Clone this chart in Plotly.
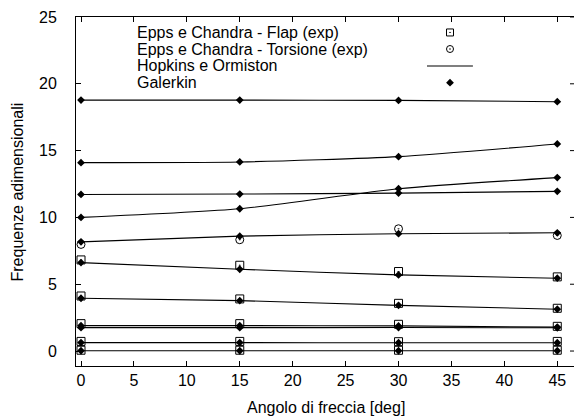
import plotly.graph_objects as go

# Sweep angle [deg]
angles = [0, 15, 30, 45]

# Galerkin frequencies, one list per mode
galerkin_modes = [
    [18.78, 18.78, 18.76, 18.66],
    [14.10, 14.15, 14.55, 15.50],
    [11.72, 11.75, 11.82, 11.95],
    [10.00, 10.65, 12.15, 12.98],
    [8.17, 8.60, 8.78, 8.85],
    [6.62, 6.12, 5.70, 5.45],
    [3.95, 3.77, 3.42, 3.13],
    [1.90, 1.90, 1.88, 1.79],
    [1.75, 1.75, 1.76, 1.74],
    [0.63, 0.63, 0.62, 0.62],
    [0.02, 0.02, 0.02, 0.02],
]

# Hopkins e Ormiston curves
hopkins_modes = [
    [18.78, 18.78, 18.76, 18.66],
    [14.10, 14.15, 14.55, 15.50],
    [11.72, 11.75, 11.82, 11.95],
    [10.00, 10.65, 12.15, 12.98],
    [8.17, 8.60, 8.78, 8.85],
    [6.62, 6.12, 5.70, 5.45],
    [3.95, 3.77, 3.42, 3.13],
    [1.90, 1.90, 1.88, 1.79],
    [1.75, 1.75, 1.76, 1.74],
    [0.63, 0.63, 0.62, 0.62],
    [0.02, 0.02, 0.02, 0.02],
]

# Epps e Chandra experiments
flap_exp = [
    [6.82, 6.42, 5.95, 5.55],
    [4.12, 3.90, 3.57, 3.20],
    [2.05, 2.05, 2.00, 1.85],
    [0.72, 0.72, 0.70, 0.72],
    [0.06, 0.06, 0.06, 0.06],
]
torsion_exp = [7.98, 8.33, 9.15, 8.65]

legend_labels = [
    "Epps e Chandra - Flap (exp)",
    "Epps e Chandra - Torsione (exp)",
    "Hopkins e Ormiston",
    "Galerkin",
]

x_ticks = list(range(0, 50, 5))
y_ticks = list(range(0, 30, 5))

FONT = "Liberation Sans, Arial, sans-serif"

fig = go.Figure()

for ys in hopkins_modes:
    fig.add_trace(go.Scatter(x=angles, y=ys, mode="lines",
                             line=dict(color="black", width=1.1, shape="spline", smoothing=0.6),
                             showlegend=False, hoverinfo="skip"))

for ys in flap_exp:
    fig.add_trace(go.Scatter(x=angles, y=ys, mode="markers",
                             marker=dict(symbol="square-open-dot", size=8, color="black",
                                         line=dict(width=1, color="black")),
                             showlegend=False))

fig.add_trace(go.Scatter(x=angles, y=torsion_exp, mode="markers",
                         marker=dict(symbol="circle-open-dot", size=8, color="black",
                                     line=dict(width=1, color="black")),
                         showlegend=False))

for ys in galerkin_modes:
    fig.add_trace(go.Scatter(x=angles, y=ys, mode="markers",
                             marker=dict(symbol="diamond", size=6, color="black"),
                             showlegend=False))

# Key: labels on the left, samples on the right (overlay axes in 0..1 units)
key_rows = [0.9557, 0.9083, 0.8596, 0.8117]
key_text_x = 0.1185
key_sym_x = 0.751
for lbl, ry in zip(legend_labels, key_rows):
    fig.add_annotation(text=lbl, xref="paper", yref="paper", x=key_text_x, y=ry,
                       xanchor="left", yanchor="middle", showarrow=False,
                       font=dict(family=FONT, size=16, color="black"))

fig.add_trace(go.Scatter(x=[key_sym_x], y=[key_rows[0]], xaxis="x2", yaxis="y2", mode="markers",
                         marker=dict(symbol="square-open-dot", size=7, color="black",
                                     line=dict(width=1, color="black")),
                         showlegend=False, hoverinfo="skip"))
fig.add_trace(go.Scatter(x=[key_sym_x], y=[key_rows[1]], xaxis="x2", yaxis="y2", mode="markers",
                         marker=dict(symbol="circle-open-dot", size=7, color="black",
                                     line=dict(width=1, color="black")),
                         showlegend=False, hoverinfo="skip"))
fig.add_trace(go.Scatter(x=[0.7048, 0.797], y=[key_rows[2]] * 2, xaxis="x2", yaxis="y2", mode="lines",
                         line=dict(color="black", width=1.2),
                         showlegend=False, hoverinfo="skip"))
fig.add_trace(go.Scatter(x=[key_sym_x], y=[key_rows[3]], xaxis="x2", yaxis="y2", mode="markers",
                         marker=dict(symbol="diamond", size=6, color="black"),
                         showlegend=False, hoverinfo="skip"))

# Inward ticks along the right edge
for v in y_ticks:
    fig.add_shape(type="line", xref="paper", xsizemode="pixel", xanchor=1, x0=-4, x1=0,
                  yref="y", y0=v, y1=v, line=dict(color="black", width=1))

# Axis titles
fig.add_annotation(text="Angolo di freccia [deg]", xref="paper", yref="paper", x=0.503, y=-0.1175,
                   xanchor="center", yanchor="middle", showarrow=False,
                   font=dict(family=FONT, size=16, color="black"))
fig.add_annotation(text="Frequenze adimensionali", xref="paper", yref="paper", x=-0.1165, y=0.5,
                   xanchor="center", yanchor="middle", textangle=-90, showarrow=False,
                   font=dict(family=FONT, size=16, color="black"))

fig.update_layout(
    width=574, height=416,
    margin=dict(l=76, r=0, t=17, b=50),
    plot_bgcolor="white", paper_bgcolor="white",
    font=dict(family=FONT, size=16, color="black"),
    showlegend=False,
    xaxis=dict(range=[-0.472, 46.58], tickvals=x_ticks, ticks="inside", ticklen=5,
               tickcolor="black", showline=True, linecolor="black", linewidth=1,
               mirror="ticks", showgrid=False, zeroline=False, tickfont=dict(size=16)),
    yaxis=dict(range=[-1.12, 25.0], tickvals=y_ticks, ticks="inside", ticklen=5,
               tickcolor="black", showline=True, linecolor="black", linewidth=1,
               mirror=False, showgrid=False, zeroline=False, tickfont=dict(size=16),
               ticklabelstandoff=15),
    xaxis2=dict(range=[0, 1], overlaying="x", visible=False, anchor="y2"),
    yaxis2=dict(range=[0, 1], overlaying="y", visible=False, anchor="x2"),
)

fig.write_html("out.html")
